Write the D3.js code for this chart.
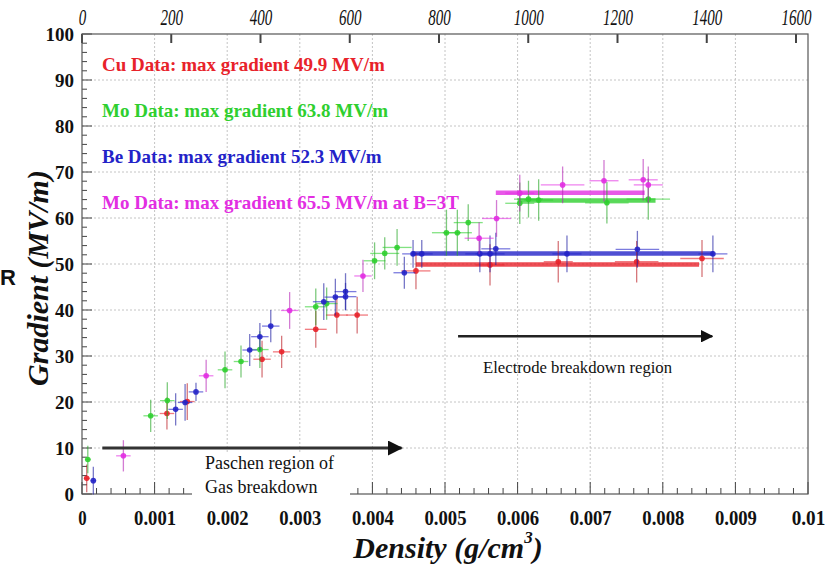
<!DOCTYPE html>
<html lang="en">
<head>
  <meta charset="UTF-8">
  <title>Gradient vs Density</title>
  <style>
    body { margin: 0; background: #fff; }
    svg { display: block; }
    .serif { font-family: "Liberation Serif", "Times New Roman", Times, serif; }
  </style>
</head>
<body>
  <div id="main"></div>
  <script src="https://d3js.org/d3.v7.min.js"></script>
  <script>
    // data: [density, gradient, error on gradient, error on density]
    const cuData = [
      [0.000065, 3.4, 3, 0.00004], [0.00117, 17.5, 3.5, 0.0001], [0.00145, 20.1, 4, 0.0001],
      [0.00248, 29.3, 4, 0.00012], [0.00275, 30.9, 3.5, 0.00012], [0.00322, 35.8, 4, 0.00015],
      [0.00351, 38.9, 4, 0.00015], [0.00379, 38.9, 4, 0.00015], [0.0046, 48.5, 4, 0.0002],
      [0.00562, 49.8, 4.5, 0.0002], [0.00656, 50.5, 4.5, 0.0002], [0.00764, 50.5, 4.5, 0.0003],
      [0.00854, 51.2, 4, 0.0003]
    ];
    const moData = [
      [0.00008, 7.5, 3, 0.00004], [0.000946, 17.0, 3.5, 0.0001], [0.001175, 20.3, 4, 0.0001],
      [0.00197, 27.0, 4, 0.0001], [0.00219, 28.8, 3.5, 0.0001], [0.00245, 31.4, 4, 0.00012],
      [0.00322, 40.7, 4, 0.00015], [0.00337, 41.4, 3.5, 0.00015], [0.00403, 50.7, 4, 0.00015],
      [0.00417, 52.3, 3.5, 0.0002], [0.00434, 53.6, 4, 0.0002], [0.00502, 56.8, 5, 0.0002],
      [0.00517, 56.8, 5, 0.0002], [0.00532, 59.0, 4, 0.0002], [0.00603, 63.2, 4.5, 0.0002],
      [0.00615, 64.1, 4, 0.0002], [0.00629, 63.9, 4.5, 0.0002], [0.00723, 63.3, 4.5, 0.0003],
      [0.0078, 64.1, 4.5, 0.0003]
    ];
    const beData = [
      [0.000156, 2.9, 3, 0.00004], [0.00129, 18.4, 3.5, 0.0001], [0.00142, 19.9, 4, 0.0001],
      [0.00157, 22.2, 2, 0.0001], [0.00231, 31.3, 3.5, 0.0001], [0.00245, 34.2, 3, 0.00012],
      [0.0026, 36.5, 3.5, 0.00012], [0.00333, 41.8, 4, 0.00015], [0.00349, 42.8, 4, 0.00015],
      [0.00363, 44.0, 4, 0.00015], [0.00363, 42.9, 3, 0.00015], [0.00444, 48.1, 3.5, 0.00015],
      [0.00456, 52.2, 3, 0.00015], [0.00468, 52.2, 3, 0.00015], [0.00548, 52.2, 4, 0.0002],
      [0.00562, 52.2, 4, 0.0002], [0.0057, 53.3, 3.5, 0.0002], [0.00668, 52.2, 4, 0.0002],
      [0.00765, 53.2, 4, 0.0003], [0.00869, 52.2, 4, 0.0002]
    ];
    const moBData = [
      [0.00057, 8.3, 3.4, 0.0001], [0.00171, 25.7, 3.5, 0.0001], [0.00286, 39.9, 4, 0.00012],
      [0.00387, 47.4, 3.5, 0.00012], [0.00547, 55.6, 3.5, 0.0002], [0.00571, 59.9, 4, 0.0002],
      [0.00603, 65.4, 4, 0.0002], [0.00662, 67.2, 4, 0.0003], [0.00719, 68.1, 4.5, 0.0002],
      [0.00773, 68.3, 4.5, 0.0002], [0.0078, 67.2, 4, 0.0002]
    ];

    // max gradient bands
    const maxBands = [
      { name: 'cu', range: [0.0046, 0.0085], value: 49.9 },
      { name: 'be', range: [0.00455, 0.0087], value: 52.3 },
      { name: 'mo', range: [0.0060, 0.0079], value: 63.8 },
      { name: 'moB', range: [0.0057, 0.00775], value: 65.5 }
    ];

    const legendLines = [
      { name: 'cu', text: 'Cu Data:  max gradient 49.9 MV/m' },
      { name: 'mo', text: 'Mo Data:  max gradient 63.8 MV/m' },
      { name: 'be', text: 'Be Data:  max gradient 52.3 MV/m' },
      { name: 'moB', text: 'Mo Data:  max gradient 65.5 MV/m at B=3T' }
    ];

    const xTicks = [0, 0.001, 0.002, 0.003, 0.004, 0.005, 0.006, 0.007, 0.008, 0.009, 0.01];
    const xTickLabels = ['0', '0.001', '0.002', '0.003', '0.004', '0.005', '0.006', '0.007', '0.008', '0.009', '0.01'];
    const yTicks = [0, 10, 20, 30, 40, 50, 60, 70, 80, 90, 100];
    const topTicks = [0, 200, 400, 600, 800, 1000, 1200, 1400, 1600];

    const colors = { cu: '#e8222a', mo: '#2fcf2f', be: '#2323c8', moB: '#e22ee2' };
    const series = [
      { name: 'cu', data: cuData },
      { name: 'mo', data: moData },
      { name: 'be', data: beData },
      { name: 'moB', data: moBData }
    ];

    const [width, height] = [840, 570];
    const pLeft = 82, pRight = 808, pTop = 34, pBottom = 494;

    const svg = d3.select('#main').append('svg')
      .attr('width', width)
      .attr('height', height)
      .attr('viewBox', `0 0 ${width} ${height}`);

    const x = d3.scaleLinear().domain([0, 0.01]).range([pLeft, pRight]);
    const y = d3.scaleLinear().domain([0, 100]).range([pBottom, pTop]);
    // top axis: 1600 sits a bit inside the right edge
    const xTop = d3.scaleLinear().domain([0, 1600]).range([pLeft, 796]);

    // grid
    const grid = svg.append('g').attr('stroke', '#c4c4c4').attr('stroke-dasharray', '2,2').attr('stroke-width', 1);
    grid.selectAll('.gx').data(xTicks.slice(1, -1)).join('line')
      .attr('x1', d => x(d)).attr('x2', d => x(d)).attr('y1', pTop).attr('y2', pBottom);
    grid.selectAll('.gy').data(yTicks.slice(1, -1)).join('line')
      .attr('x1', pLeft).attr('x2', pRight).attr('y1', d => y(d)).attr('y2', d => y(d));

    // axes
    const minorX = d3.range(0, 0.01001, 0.0002);
    const minorY = d3.range(0, 100.1, 2);

    const xAxis = svg.append('g').attr('transform', `translate(0,${pBottom})`)
      .call(d3.axisBottom(x).tickValues(xTicks).tickSize(0).tickPadding(16).tickFormat((d, i) => xTickLabels[i]));
    xAxis.select('.domain').remove();
    xAxis.selectAll('text').attr('class', 'serif').attr('font-weight', 'bold')
      .attr('font-size', 21).attr('fill', '#111')
      .attr('textLength', (d, i) => xTickLabels[i].length * 8.4).attr('lengthAdjust', 'spacingAndGlyphs');

    const yAxis = svg.append('g').attr('transform', `translate(${pLeft},0)`)
      .call(d3.axisLeft(y).tickValues(yTicks).tickSize(0).tickPadding(8));
    yAxis.select('.domain').remove();
    yAxis.selectAll('text').attr('class', 'serif').attr('font-weight', 'bold').attr('font-size', 19).attr('fill', '#111');

    const topAxis = svg.append('g').attr('transform', `translate(0,${pTop})`)
      .call(d3.axisTop(xTop).tickValues(topTicks).tickSize(0).tickPadding(9).tickFormat(d3.format('d')));
    topAxis.select('.domain').remove();
    topAxis.selectAll('text').attr('class', 'serif').attr('font-style', 'italic').attr('font-size', 23)
      .attr('fill', '#111').attr('textLength', d => String(d).length * 7.5).attr('lengthAdjust', 'spacingAndGlyphs');
    // axis groups set a sans font; clear it so the class wins
    [xAxis, yAxis, topAxis].forEach(a => a.attr('font-family', null));

    const ticks = svg.append('g').attr('stroke', '#444').attr('stroke-width', 1);
    ticks.selectAll('.bx').data(minorX).join('line')
      .attr('x1', d => x(d)).attr('x2', d => x(d))
      .attr('y1', pBottom).attr('y2', (d, i) => pBottom - (i % 5 === 0 ? 12 : 6));
    ticks.selectAll('.ly').data(minorY).join('line')
      .attr('y1', d => y(d)).attr('y2', d => y(d))
      .attr('x1', pLeft).attr('x2', (d, i) => pLeft + (i % 5 === 0 ? 10 : 5));
    ticks.selectAll('.tx').data(topTicks).join('line')
      .attr('x1', d => xTop(d)).attr('x2', d => xTop(d))
      .attr('y1', pTop).attr('y2', pTop + 9).attr('stroke-width', 2);

    // frame
    svg.append('rect').attr('x', pLeft).attr('y', pTop).attr('width', pRight - pLeft).attr('height', pBottom - pTop)
      .attr('fill', 'none').attr('stroke', '#555').attr('stroke-width', 1.2);

    // max gradient bands
    svg.append('g').selectAll('line').data(maxBands).join('line')
      .attr('x1', d => x(d.range[0])).attr('x2', d => x(d.range[1]))
      .attr('y1', d => y(d.value)).attr('y2', d => y(d.value))
      .attr('stroke', d => colors[d.name]).attr('stroke-width', 4.5).attr('stroke-opacity', 0.8);

    // data points with error bars
    series.forEach(s => {
      const g = svg.append('g');
      const c = colors[s.name];
      const pts = g.selectAll('g').data(s.data).join('g');
      pts.append('line')
        .attr('x1', d => x(d[0])).attr('x2', d => x(d[0]))
        .attr('y1', d => y(d[1] - d[2])).attr('y2', d => y(d[1] + d[2]))
        .attr('stroke', d3.color(c).darker(0.6)).attr('stroke-opacity', 0.6).attr('stroke-width', 1.3);
      pts.append('line')
        .attr('x1', d => x(d[0] - d[3])).attr('x2', d => x(d[0] + d[3]))
        .attr('y1', d => y(d[1])).attr('y2', d => y(d[1]))
        .attr('stroke', c).attr('stroke-opacity', 0.6).attr('stroke-width', 1.3);
      pts.append('circle')
        .attr('cx', d => x(d[0])).attr('cy', d => y(d[1])).attr('r', 2.8)
        .attr('fill', c).attr('fill-opacity', 0.9);
    });

    // legend text
    svg.append('g').selectAll('text').data(legendLines).join('text')
      .attr('class', 'serif')
      .attr('x', 102).attr('y', (d, i) => 71 + i * 46)
      .attr('font-weight', 'bold').attr('font-size', 19)
      .attr('fill', d => colors[d.name])
      .text(d => d.text);

    // arrows
    const defs = svg.append('defs');
    defs.append('marker').attr('id', 'head').attr('viewBox', '0 0 10 10')
      .attr('refX', 9).attr('refY', 5).attr('markerWidth', 5).attr('markerHeight', 5)
      .attr('orient', 'auto')
      .append('path').attr('d', 'M0,0L10,5L0,10z').attr('fill', '#111');

    // Paschen region label box covers the axis
    svg.append('rect').attr('x', 192).attr('y', 453).attr('width', 158).attr('height', 50).attr('fill', '#fff');
    svg.append('line')
      .attr('x1', x(0.00028)).attr('x2', x(0.0044)).attr('y1', y(10)).attr('y2', y(10))
      .attr('stroke', '#333').attr('stroke-width', 3).attr('marker-end', 'url(#head)');
    svg.append('text').attr('class', 'serif').attr('x', 205).attr('y', 469).attr('font-size', 18).attr('fill', '#111')
      .text('Paschen region of');
    svg.append('text').attr('class', 'serif').attr('x', 205).attr('y', 493).attr('font-size', 18).attr('fill', '#111')
      .text('Gas breakdown');

    svg.append('line')
      .attr('x1', x(0.00518)).attr('x2', x(0.00868)).attr('y1', y(34.3)).attr('y2', y(34.3))
      .attr('stroke', '#222').attr('stroke-width', 2.5).attr('marker-end', 'url(#head)');
    svg.append('text').attr('class', 'serif').attr('x', 483).attr('y', 373).attr('font-size', 16.7).attr('fill', '#111')
      .text('Electrode breakdown region');

    // axis titles
    const xt = svg.append('text').attr('class', 'serif').attr('x', 448).attr('y', 558).attr('text-anchor', 'middle')
      .attr('font-style', 'italic').attr('font-weight', 'bold').attr('font-size', 30).attr('fill', '#111');
    xt.append('tspan').text('Density (g/cm');
    xt.append('tspan').attr('font-size', 17).attr('dy', -15).text('3');
    xt.append('tspan').attr('dy', 15).text(')');

    svg.append('text').attr('class', 'serif').attr('transform', 'translate(48,278) rotate(-90)').attr('text-anchor', 'middle')
      .attr('font-style', 'italic').attr('font-weight', 'bold').attr('font-size', 30).attr('fill', '#111')
      .text('Gradient (MV/m)');

    // stray letter at the left edge
    svg.append('text').attr('x', 0).attr('y', 285).attr('font-family', 'Liberation Sans, Arial, sans-serif')
      .attr('font-weight', 'bold').attr('font-size', 22).attr('fill', '#111').text('R');
  </script>
</body>
</html>
